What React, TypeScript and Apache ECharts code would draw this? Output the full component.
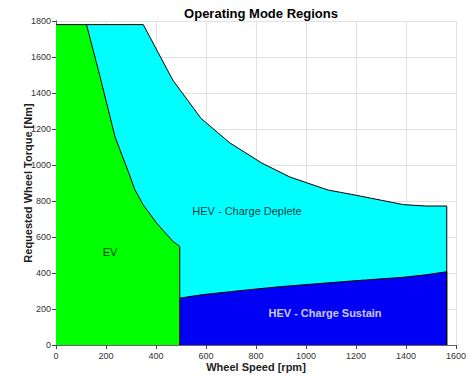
import React, { useEffect, useRef } from "react";
import * as echarts from "echarts";

const chartTitle = "Operating Mode Regions";
const xAxisName = "Wheel Speed [rpm]";
const yAxisName = "Requested Wheel Torque [Nm]";

// Region boundaries [speed rpm, torque Nm]
const evBoundary: [number, number][] = [
  [0, 1780], [122, 1780], [176, 1491], [236, 1157], [290, 960], [316, 861],
  [349, 778], [403, 676], [469, 574], [495, 548], [495, 0],
];
const depleteBoundary: [number, number][] = [
  [122, 1780], [349, 1780], [467, 1472], [580, 1259], [696, 1122], [823, 1011],
  [936, 933], [1088, 861], [1196, 833], [1389, 780], [1480, 772], [1563, 772], [1563, 0],
];
const sustainBoundary: [number, number][] = [
  [495, 260], [530, 268], [589, 280], [736, 302], [896, 324], [1196, 357],
  [1388, 376], [1480, 390], [1563, 407], [1563, 0],
];

const regionLabels: [number, number, string][] = [
  [216, 517, "EV"],
  [764, 744, "HEV - Charge Deplete"],
];
const sustainLabel: [number, number, string][] = [[1076, 178, "HEV - Charge Sustain"]];

const FONT = "Liberation Sans, Arial, sans-serif";

export default function App() {
  const ref = useRef<HTMLDivElement>(null);
  useEffect(() => {
    const chart = echarts.init(ref.current!, undefined, { renderer: "svg" });
    const areaSeries = (data: [number, number][], color: string) => ({
      type: "line",
      data,
      symbol: "none",
      lineStyle: { color: "#000", width: 1 },
      areaStyle: { color, opacity: 1 },
      silent: true,
    });
    const labelSeries = (data: [number, number, string][], color: string, weight: string) => ({
      type: "scatter",
      data,
      symbolSize: 2,
      itemStyle: { color: "rgba(0,0,0,0)" },
      silent: true,
      z: 5,
      label: {
        show: true,
        position: "inside",
        formatter: (p: any) => p.value[2],
        fontSize: 11,
        fontWeight: weight,
        color,
        fontFamily: FONT,
      },
    });
    chart.setOption({
      animation: false,
      textStyle: { fontFamily: FONT },
      title: {
        text: chartTitle,
        left: 256,
        textAlign: "center",
        top: 2,
        textStyle: { fontSize: 13, fontWeight: "bold", color: "#000", fontFamily: FONT },
      },
      grid: { left: 56, right: 17, top: 21, bottom: 34 },
      xAxis: [
        {
          type: "value",
          min: 0,
          max: 1600,
          interval: 200,
          name: xAxisName,
          nameLocation: "middle",
          nameGap: 16,
          nameMoveOverlap: false,
          nameTextStyle: { fontSize: 11, fontWeight: "bold", color: "#222", fontFamily: FONT },
          axisLine: { lineStyle: { color: "#333" } },
          axisTick: { show: false },
          axisLabel: { fontSize: 9, color: "#333", margin: 6, fontFamily: FONT, formatter: (v: number) => String(v) },
          splitLine: { lineStyle: { color: "#e2e2e2" } },
        },
        {
          type: "value",
          position: "top",
          min: 0,
          max: 1600,
          interval: 200,
          axisLine: { lineStyle: { color: "#666" } },
          axisTick: { inside: true, length: 4, lineStyle: { color: "#444" } },
          axisLabel: { show: false },
          splitLine: { show: false },
        },
      ],
      yAxis: [
        {
          type: "value",
          min: 0,
          max: 1800,
          interval: 200,
          name: yAxisName,
          nameLocation: "middle",
          nameGap: 23,
          nameMoveOverlap: false,
          nameTextStyle: { fontSize: 11, fontWeight: "bold", color: "#222", fontFamily: FONT },
          axisLine: { lineStyle: { color: "#333" } },
          axisTick: { show: false },
          axisLabel: { fontSize: 9, color: "#333", margin: 5, fontFamily: FONT, formatter: (v: number) => String(v) },
          splitLine: { lineStyle: { color: "#e2e2e2" } },
        },
        {
          type: "value",
          position: "right",
          min: 0,
          max: 1800,
          interval: 200,
          axisLine: { show: true, lineStyle: { color: "#666" } },
          axisTick: { inside: true, length: 4, lineStyle: { color: "#444" } },
          axisLabel: { show: false },
          splitLine: { show: false },
        },
      ],
      series: [
        areaSeries(depleteBoundary, "#00ffff"),
        areaSeries(evBoundary, "#00ff00"),
        areaSeries(sustainBoundary, "#0000f5"),
        labelSeries(regionLabels, "#000", "normal"),
        labelSeries(sustainLabel, "#fff", "bold"),
      ],
    });
    return () => chart.dispose();
  }, []);
  return <div ref={ref} style={{ width: 473, height: 379, position: "absolute", left: 0, top: 0 }} />;
}
